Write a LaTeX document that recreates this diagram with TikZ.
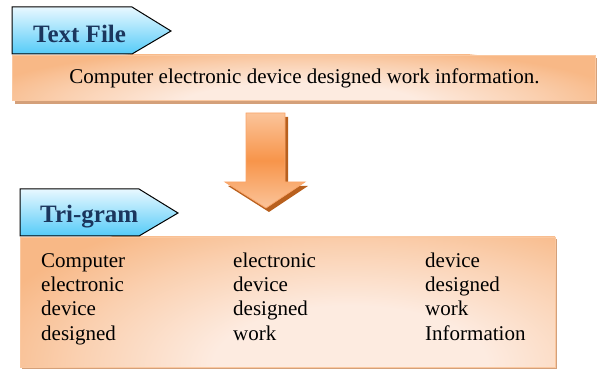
\documentclass[tikz,border=0pt]{standalone}
\usepackage{fontspec}
\setmainfont{LiberationSerif}[Extension=.ttf, UprightFont=*-Regular, BoldFont=*-Bold, ItalicFont=*-Italic, BoldItalicFont=*-BoldItalic]
\newfontfamily\tnr{LiberationSerif}[Extension=.ttf, UprightFont=*-Regular, BoldFont=*-Bold, ItalicFont=*-Italic, BoldItalicFont=*-BoldItalic]
\definecolor{tagtop}{HTML}{E8F8FF}
\definecolor{tagbot}{HTML}{55CBF8}
\definecolor{tagtext}{HTML}{1B365D}
\definecolor{boxdark}{HTML}{F8B886}
\definecolor{boxmid}{HTML}{FAD0B0}
\definecolor{boxlight}{HTML}{FDEBE0}
\definecolor{boxedge}{HTML}{FAC8A0}
\definecolor{boxshadow}{HTML}{D4A07A}
\definecolor{arrlight}{HTML}{FBC49A}
\definecolor{arrdark}{HTML}{F7954A}
\definecolor{arredge}{HTML}{F9A56A}
\definecolor{arrshadow}{HTML}{B8601E}
\pgfdeclareradialshading{boxglow}{\pgfpoint{0bp}{0bp}}{color(0bp)=(boxlight); color(9bp)=(boxlight); color(18bp)=(boxmid); color(25bp)=(boxdark); color(50bp)=(boxdark)}
\tikzset{
  tagshape/.style={draw=black, line width=1pt, top color=tagtop, bottom color=tagbot, line join=miter},
  tagtitle/.style={font=\tnr\bfseries\fontsize{25}{28}\selectfont, text=tagtext, anchor=base west, inner sep=0pt},
  boxbase/.style={fill=boxdark},
  boxglowfill/.style={shading=boxglow},
  boxborder/.style={draw=boxedge, line width=0.8pt},
  shadowbox/.style={fill=boxshadow, draw=none},
  bodytext/.style={font=\tnr\fontsize{21}{24}\selectfont, anchor=base west, inner sep=0pt},
  arrowbody/.style={draw=arredge, line width=0.8pt, top color=arrlight, bottom color=arrlight, middle color=arrdark},
  arrowshadow/.style={fill=arrshadow, draw=none}
}
\begin{document}
\begin{tikzpicture}[x=1pt, y=-1pt]
\useasboundingbox (0,0) rectangle (598,371);
% top box
\fill[shadowbox] (15,58) rectangle (597,104);
\begin{scope}
  \clip (12,55) rectangle (595,100);
  \fill[boxbase] (12,55) rectangle (595,100);
  \shade[boxglowfill] (300,104) ellipse [x radius=330, y radius=58];
\end{scope}
\path[boxborder] (12,55) rectangle (595,100);
\path[tagshape] (12,7) -- (132,7) -- (171,31) -- (132,54) -- (12,54) -- cycle;
\node[tagtitle] (tf) at (33,43) {Text File};
\node[bodytext, anchor=base] (sent) at (304.5,84) {Computer electronic device designed work information.};
% arrow
\fill[arrowshadow] (249,117) -- (288,117) -- (288,186) -- (308,186) -- (269,212) -- (228,186) -- (249,186) -- cycle;
\path[arrowbody] (246,113) -- (285,113) -- (285,182) -- (305,182) -- (266,208) -- (225,182) -- (246,182) -- cycle;
% bottom box
\fill[shadowbox] (22,239) rectangle (557,369);
\begin{scope}
  \clip (20,237) rectangle (555,367);
  \fill[boxbase] (20,237) rectangle (555,367);
  \shade[boxglowfill] (350,365) ellipse [x radius=380, y radius=165];
\end{scope}
\path[boxborder] (20,237) rectangle (555,367);
\path[tagshape] (20,189) -- (139,189) -- (178,213) -- (139,236) -- (20,236) -- cycle;
\node[tagtitle] (tg) at (40,223) {Tri-gram};
\node[bodytext] (a1) at (41,267.3) {Computer};
\node[bodytext] (a2) at (41,291.6) {electronic};
\node[bodytext] (a3) at (41,315.9) {device};
\node[bodytext] (a4) at (41,340.2) {designed};
\node[bodytext] (b1) at (233,267.3) {electronic};
\node[bodytext] (b2) at (233,291.6) {device};
\node[bodytext] (b3) at (233,315.9) {designed};
\node[bodytext] (b4) at (233,340.2) {work};
\node[bodytext] (c1) at (425,267.3) {device};
\node[bodytext] (c2) at (425,291.6) {designed};
\node[bodytext] (c3) at (425,315.9) {work};
\node[bodytext] (c4) at (425,340.2) {Information};
\end{tikzpicture}
\end{document}
